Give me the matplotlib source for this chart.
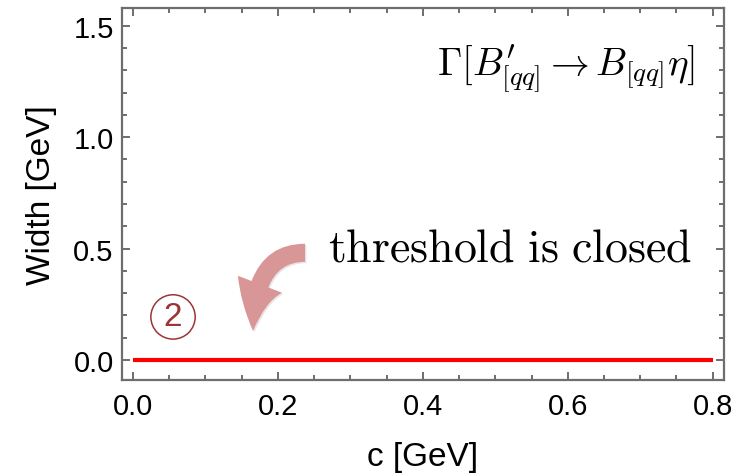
import numpy as np
import matplotlib
matplotlib.use('Agg')
import matplotlib.pyplot as plt
from matplotlib.patches import FancyArrowPatch
import matplotlib.patheffects as pe

plt.rcParams['font.family'] = ['Liberation Sans', 'DejaVu Sans']
plt.rcParams['mathtext.fontset'] = 'cm'

# data: the width stays at zero (threshold closed)
c_vals = [0.0, 0.2, 0.4, 0.6, 0.8]
width_vals = [0.0, 0.0, 0.0, 0.0, 0.0]

x_ticks = [0.0, 0.2, 0.4, 0.6, 0.8]
y_ticks = [0.0, 0.5, 1.0, 1.5]

frame_col = '#6e6e6e'

fig = plt.figure(figsize=(7.35, 4.77), dpi=100)
ax = fig.add_axes([0.166, 0.2023, 0.819, 0.7787])

ax.plot(c_vals, width_vals, color='#ff0000', lw=3.0, solid_capstyle='butt')

ax.set_xlim(-0.0152, 0.8156)
ax.set_ylim(-0.088, 1.58)

ax.set_xticks(x_ticks)
ax.set_xticklabels(['%.1f' % v for v in x_ticks])
ax.set_yticks(y_ticks)
ax.set_yticklabels(['%.1f' % v for v in y_ticks])
ax.set_xticks(np.arange(0.0, 0.81, 0.05), minor=True)
ax.set_yticks(np.arange(0.0, 1.51, 0.1), minor=True)

for s in ax.spines.values():
    s.set_color(frame_col)
    s.set_linewidth(1.6)

ax.tick_params(which='both', direction='in', top=True, right=True, color=frame_col, width=1.4)
ax.tick_params(which='major', length=5.5, labelsize=21)
ax.tick_params(which='minor', length=3.5)
ax.tick_params(axis='x', which='major', pad=9)
ax.tick_params(axis='y', which='major', pad=6)

ax.set_xlabel('c [GeV]', fontsize=24, labelpad=15)
ax.set_ylabel('Width [GeV]', fontsize=24, labelpad=12)

# process label
ax.text(0.7756, 1.285, r"$\Gamma[B^{\prime}_{[qq]} \rightarrow B_{[qq]}\eta]$",
        fontsize=28, ha='right', va='baseline')

# annotation
ax.text(0.2691, 0.445, r'$\mathrm{threshold\ is\ closed}$',
        fontsize=33, ha='left', va='baseline')

arr = FancyArrowPatch((0.2374, 0.481), (0.1656, 0.130),
                      connectionstyle='angle3,angleA=0,angleB=90',
                      arrowstyle='simple,head_length=34,head_width=34,tail_width=13',
                      shrinkA=0, shrinkB=0, mutation_scale=1,
                      fc='#d99696', ec='none',
                      path_effects=[pe.SimplePatchShadow(offset=(1, -1), alpha=0.12),
                                    pe.Normal()])
ax.add_patch(arr)

ax.text(0.0552, 0.193, '2', fontsize=24, color='#9c3535', fontweight='medium',
        ha='center', va='center',
        bbox=dict(boxstyle='circle,pad=0.2', fc='none', ec='#9c3535', lw=1.1))

fig.savefig('out.png', dpi=100)
